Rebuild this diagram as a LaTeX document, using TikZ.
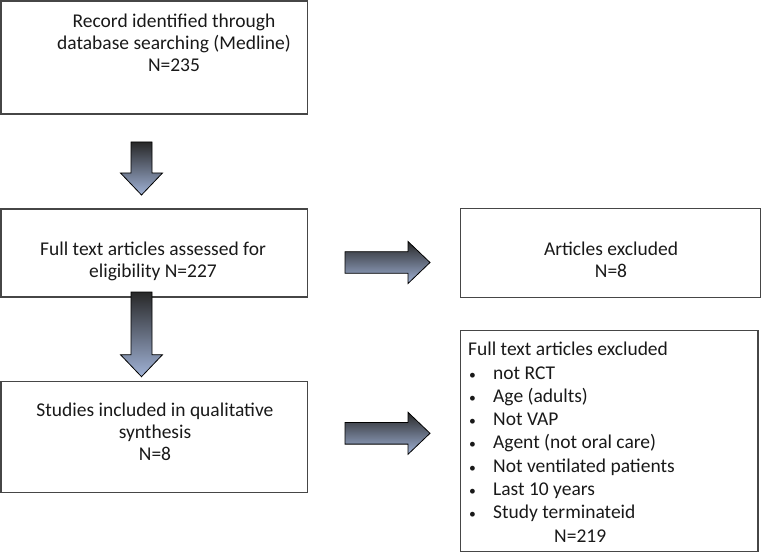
\documentclass[tikz,border=0pt]{standalone}
\usepackage{fontspec}
\setmainfont{Carlito}
\usetikzlibrary{calc}

\definecolor{boxline}{RGB}{70,70,70}
\definecolor{arrowdark}{RGB}{40,40,40}
\definecolor{arrowlight}{RGB}{160,178,214}

\tikzset{
  box/.style={draw=boxline, line width=1.5pt, rectangle, inner sep=0pt},
  txt/.style={align=center, inner sep=0pt, text=black!90, font=\fontsize{19.5}{22}\selectfont},
  blockarrow/.style={draw=black, line width=0.8pt, top color=arrowdark, bottom color=arrowlight}
}

% block arrow pointing down: #1 top of shaft, #2 tip
\newcommand{\blockdown}[2]{%
  \shade[blockarrow] ($(#1)+(-10.5,0)$) -- ($(#1)+(10.5,0)$) -- ($(#2)+(10.5,-22)$)
    -- ($(#2)+(21,-22)$) -- (#2) -- ($(#2)+(-21,-22)$) -- ($(#2)+(-10.5,-22)$) -- cycle;}
% block arrow pointing right: #1 back of shaft, #2 tip
\newcommand{\blockright}[2]{%
  \shade[blockarrow] ($(#1)+(0,-10.8)$) -- ($(#2)+(-22,-10.8)$) -- ($(#2)+(-22,-21)$)
    -- (#2) -- ($(#2)+(-22,21)$) -- ($(#2)+(-22,10.8)$) -- ($(#1)+(0,10.8)$) -- cycle;}
\newcommand{\bl}{\makebox[25pt][l]{\hspace*{1pt}\scalebox{0.7}{\textbullet}}}

\begin{document}
\begin{tikzpicture}[x=1pt,y=-1pt]
        \useasboundingbox (0,0) rectangle (762,553);

        % Draw the boxes
        \node[box, minimum width=306.5pt, minimum height=113pt] (rec) at (154.25,57.5) {};
        \node[box, minimum width=306.5pt, minimum height=88pt] (full) at (154.25,253) {};
        \node[box, minimum width=306.5pt, minimum height=111.2pt] (incl) at (154.25,437.1) {};
        \node[box, minimum width=299.8pt, minimum height=89.4pt] (excl) at (610.6,253) {};
        \node[box, minimum width=297.3pt, minimum height=220.8pt] (ftex) at (609.35,441.1) {};

        % Box texts
        \node[txt] (recT) at (174,43) {Record identified through\\database searching (Medline)\\N=235};
        \node[txt] (fullT) at (153,261.5) {Full text articles assessed for\\eligibility N=227};
        \node[txt] (inclT) at (155,431.5) {Studies included in qualitative\\synthesis\\N=8};
        \node[txt] (exclT) at (611,260) {Articles excluded\\N=8};
        \node[txt, align=left, anchor=north west, font=\fontsize{19.5}{23.3}\selectfont] (ftexT) at (468,342)
          {Full text articles excluded\\
           \bl not RCT\\
           \bl Age (adults)\\
           \bl Not VAP\\
           \bl Agent (not oral care)\\
           \bl Not ventilated patients\\
           \bl Last 10 years\\
           \bl Study terminateid\\
           \hspace*{86pt}N=219};

        % Arrow ends
        \coordinate (d1s) at (141.5,142);
        \coordinate (d1e) at (141.5,195);
        \coordinate (d2s) at (141.5,292);
        \coordinate (d2e) at (141.5,376.7);
        \coordinate (r1s) at (345,262.5);
        \coordinate (r1e) at (430,262.5);
        \coordinate (r2s) at (345,433.3);
        \coordinate (r2e) at (430,433.3);

        % Draw block arrows
        \blockdown{d1s}{d1e}
        \blockdown{d2s}{d2e}
        \blockright{r1s}{r1e}
        \blockright{r2s}{r2e}
\end{tikzpicture}
\end{document}
